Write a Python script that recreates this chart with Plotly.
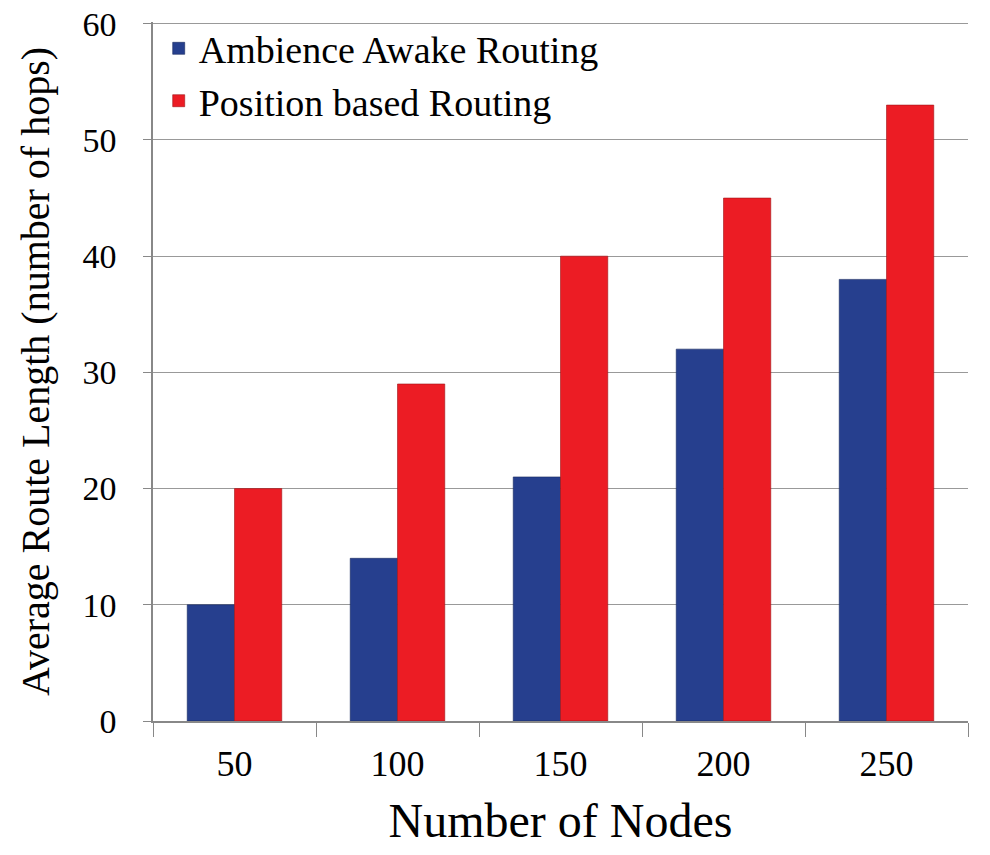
import plotly.graph_objects as go

categories = ["50", "100", "150", "200", "250"]
ambience = [10, 14, 21, 32, 38]
position = [20, 29, 40, 45, 53]
series_names = ["Ambience Awake Routing", "Position based Routing"]
y_ticks = [0, 10, 20, 30, 40, 50, 60]

SERIF = "Liberation Serif"

fig = go.Figure()
fig.add_trace(go.Bar(x=categories, y=ambience, name=series_names[0],
                     marker=dict(color="#263F8E", line=dict(color="#1a2a60", width=0.6))))
fig.add_trace(go.Bar(x=categories, y=position, name=series_names[1],
                     marker=dict(color="#EC1C24", line=dict(color="#a01418", width=0.6))))

fig.update_layout(
    width=982, height=847,
    margin=dict(l=145, r=22, t=14, b=134, autoexpand=False),
    paper_bgcolor="white", plot_bgcolor="white",
    barmode="group", bargap=0.42, bargroupgap=0,
    font=dict(family=SERIF, color="black"),
    legend=dict(x=0.007, y=1.007, xanchor="left", yanchor="top",
                font=dict(size=38, family=SERIF), bgcolor="rgba(0,0,0,0)",
                tracegroupgap=0, itemwidth=30),
    showlegend=True,
)
fig.update_xaxes(
    type="category", tickson="boundaries", ticks="outside", ticklen=14,
    tickcolor="#888888", showline=True, linecolor="#888888", linewidth=1.5,
    showgrid=False, tickfont=dict(size=36, family=SERIF), automargin=False,
    ticklabelstandoff=10,
    title=dict(text="Number of Nodes", font=dict(size=48, family=SERIF), standoff=20),
)
fig.update_yaxes(
    range=[0, 60.15], tickvals=y_ticks, ticks="outside", ticklen=8,
    tickcolor="#888888", showline=True, linecolor="#888888", linewidth=1.5,
    showgrid=True, gridcolor="#999999", gridwidth=1.3, zeroline=False,
    tickfont=dict(size=34, family=SERIF), automargin=True,
    ticklabeloverflow="allow", ticklabelstandoff=20,
    title=dict(text="Average Route Length (number of hops)", font=dict(size=40, family=SERIF), standoff=20),
)

fig.write_html("out.html")
